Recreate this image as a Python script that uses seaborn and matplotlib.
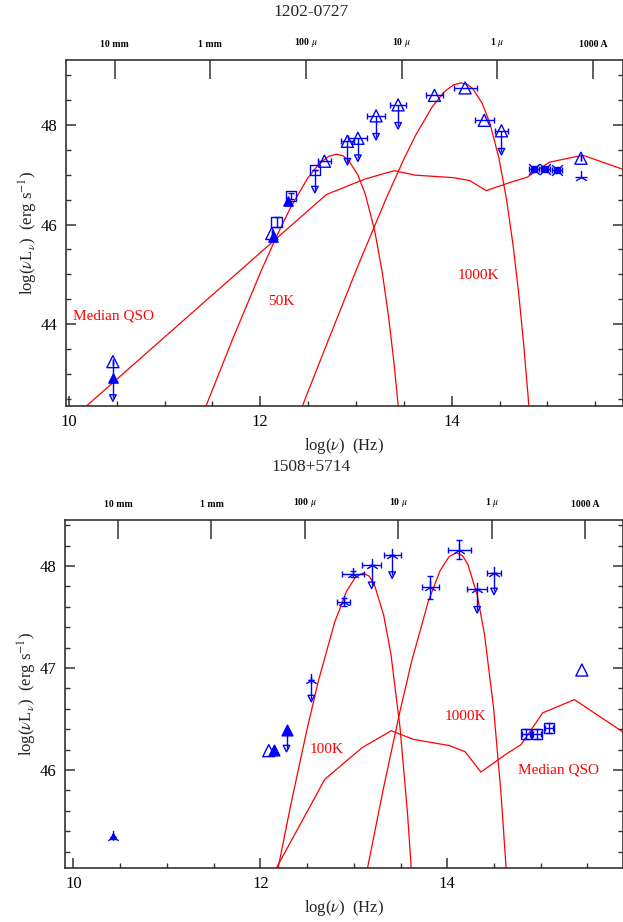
import numpy as np
import matplotlib
matplotlib.use('Agg')
import matplotlib.pyplot as plt
from matplotlib.ticker import MultipleLocator
import seaborn as sns

RED = '#ff0000'
BLUE = '#0000ff'

# top axis: wavelength in cm and its labels
wave_cm = [1.0, 0.1, 0.01, 0.001, 1e-4, 1e-5]
wave_labels = ['10 mm', '1 mm', r'100 $\mu$', r'10 $\mu$', r'1 $\mu$', '1000 A']

# ---------------- 1202-0727 ----------------
qso1_x = [10.16, 11.40, 12.69, 13.09, 13.40, 13.62, 14.02, 14.19, 14.36, 14.62, 14.79, 15.02, 15.37, 15.80]
qso1_y = [42.32, 44.42, 46.60, 46.91, 47.08, 46.99, 46.94, 46.88, 46.68, 46.85, 46.95, 47.25, 47.39, 47.10]

bb50_x = [11.416, 11.717, 12.018, 12.194, 12.319, 12.495, 12.620, 12.717, 12.796, 12.863,
          12.921, 13.018, 13.097, 13.194, 13.273, 13.340, 13.398, 13.449]
bb50_y = [42.28, 43.73, 45.11, 45.86, 46.35, 46.93, 47.23, 47.37, 47.41, 47.38,
          47.29, 47.00, 46.61, 45.89, 45.06, 44.16, 43.21, 42.21]

bb1000a_x = [12.319, 12.495, 12.717, 13.018, 13.319, 13.495, 13.620, 13.796, 13.921, 14.018, 14.097,
             14.164, 14.222, 14.319, 14.398, 14.495, 14.574, 14.641, 14.699, 14.750, 14.796, 14.838]
bb1000a_y = [41.76, 42.63, 43.71, 45.16, 46.54, 47.29, 47.78, 48.36, 48.66, 48.80, 48.84,
             48.81, 48.72, 48.43, 48.04, 47.32, 46.49, 45.59, 44.64, 43.64, 42.61, 41.56]

tri1_x = [10.46, 12.12, 12.67, 12.91, 13.02, 13.21, 13.44, 13.82, 14.14, 14.34, 14.52, 15.35]
tri1_y = [43.25, 45.82, 47.27, 47.67, 47.73, 48.18, 48.40, 48.59, 48.74, 48.09, 47.88, 47.33]
tri1_xerr = [0, 0, 0.065, 0.07, 0.10, 0.095, 0.086, 0.086, 0.12, 0.10, 0.07, 0]
ftri1_x = [10.46, 12.13, 12.29]
ftri1_y = [42.93, 45.74, 46.47]
sq1_x = [12.17, 12.32, 12.57]
sq1_y = [46.05, 46.57, 47.09]
sq1_yerr = [0.10, 0.06, 0.0]
crs1_x = [14.86, 14.98, 15.10]
crs1_y = [47.12, 47.12, 47.10]
star1_x = [15.35]
star1_y = [46.96]
# upper limits: x, start, arrow end
lim1_x = [10.46, 12.57, 12.91, 13.02, 13.21, 13.44, 14.52]
lim1_top = [43.25, 47.09, 47.67, 47.73, 48.18, 48.40, 47.88]
lim1_end = [42.52, 46.70, 47.26, 47.33, 47.76, 47.98, 47.46]

# ---------------- 1508+5714 ----------------
qso2_x = [12.10, 12.69, 13.09, 13.40, 13.64, 14.02, 14.19, 14.36, 14.62, 14.79, 15.02, 15.36, 15.90]
qso2_y = [44.92, 45.91, 46.22, 46.385, 46.30, 46.24, 46.18, 45.98, 46.15, 46.25, 46.56, 46.69, 46.36]

bb100_x = [12.018, 12.319, 12.495, 12.620, 12.796, 12.921, 13.018, 13.097, 13.164, 13.222,
           13.319, 13.398, 13.495, 13.574, 13.641]
bb100_y = [44.25, 45.63, 46.38, 46.87, 47.45, 47.75, 47.89, 47.93, 47.90, 47.81,
           47.52, 47.13, 46.41, 45.58, 44.68]

bb1000b_x = [12.717, 13.018, 13.319, 13.495, 13.620, 13.796, 13.921, 14.018, 14.097, 14.164,
             14.222, 14.319, 14.398, 14.495, 14.574, 14.641]
bb1000b_y = [43.00, 44.45, 45.83, 46.58, 47.07, 47.65, 47.95, 48.09, 48.13, 48.10,
             48.01, 47.72, 47.33, 46.61, 45.78, 44.88]

star2_x = [10.42, 12.545, 12.89, 12.99, 13.19, 13.41, 13.82, 14.13, 14.32, 14.50]
star2_y = [45.34, 46.88, 47.65, 47.92, 48.01, 48.11, 47.79, 48.16, 47.77, 47.93]
star2_xerr = [0, 0, 0.07, 0.115, 0.10, 0.09, 0.09, 0.125, 0.105, 0.07]
star2_yerr = [0, 0, 0.04, 0.03, 0, 0, 0.11, 0.09, 0, 0]
tri2_x = [12.09, 15.44]
tri2_y = [46.19, 46.98]
ftri2_x = [12.15, 12.28]
ftri2_y = [46.20, 46.39]
small_tri2_x = [10.42]
small_tri2_y = [45.35]
sq2_x = [14.84, 14.96, 15.09]
sq2_y = [46.35, 46.35, 46.41]
lim2_x = [12.28, 12.545, 13.19, 13.41, 14.32, 14.50]
lim2_top = [46.39, 46.88, 48.01, 48.11, 47.77, 47.93]
lim2_end = [46.21, 46.70, 47.81, 47.91, 47.57, 47.75]


def open_pts(ax, x, y, marker, s):
    sns.scatterplot(x=x, y=y, marker=marker, s=s, facecolor='none',
                    edgecolor=BLUE, linewidth=1.0, ax=ax, zorder=4)


def filled_pts(ax, x, y, marker, s):
    sns.scatterplot(x=x, y=y, marker=marker, s=s, color=BLUE,
                    edgecolor=BLUE, linewidth=1.0, ax=ax, zorder=4)


def limits(ax, x, top, end):
    ax.vlines(x, top, end, color=BLUE, lw=1.0, zorder=3)
    open_pts(ax, x, end, 'v', 22)


def curve(ax, x, y):
    sns.lineplot(x=x, y=y, sort=False, estimator=None, color=RED, lw=0.9, ax=ax, zorder=2)


def setup(ax, xlim, ylim, title, title_y):
    ax.set_xlim(*xlim)
    ax.set_ylim(*ylim)
    ax.xaxis.set_major_locator(MultipleLocator(2))
    ax.xaxis.set_minor_locator(MultipleLocator(0.5))
    ax.yaxis.set_major_locator(MultipleLocator(2 if ylim[1] - ylim[0] > 5 else 1))
    ax.yaxis.set_minor_locator(MultipleLocator(0.5 if ylim[1] - ylim[0] > 5 else 0.2))
    ax.tick_params(which='both', direction='in', top=False, right=True, colors='#333333',
                   labelcolor='black', labelsize=12, pad=6)
    ax.tick_params(which='major', length=7, width=1.1)
    ax.tick_params(which='minor', length=3.5, width=1.0)
    for sp in ax.spines.values():
        sp.set_color('#333333')
        sp.set_linewidth(1.2)
    ax.set_xlabel(r'log($\nu$)  (Hz)', fontsize=12, labelpad=4)
    ax.set_ylabel(r'log($\nu$L$_\nu$)  (erg s$^{-1}$)', fontsize=12, labelpad=1)

    top = ax.twiny()
    top.set_xlim(*xlim)
    top.set_xticks(np.log10(3e10 / np.array(wave_cm)))
    top.set_xticklabels(wave_labels, fontsize=7, fontweight='bold')
    top.tick_params(direction='in', length=14, width=1.1, pad=8, colors='#333333', labelcolor='black')
    for sp in top.spines.values():
        sp.set_visible(False)
    fig.text(0.5, title_y, title, ha='center', va='center', fontsize=12.5)


sns.set_style('ticks')
plt.rcParams['font.family'] = ['Liberation Serif', 'DejaVu Serif']
plt.rcParams['mathtext.fontset'] = 'stix'

fig = plt.figure(figsize=(6.23, 9.22), dpi=100)
W, H = 623.0, 922.0
ax1 = fig.add_axes([66 / W, 1 - 406 / H, (623 - 66) / W, (406 - 60) / H])
ax2 = fig.add_axes([65 / W, 1 - 868 / H, (623 - 65) / W, (868 - 520) / H])

# panel 1
curve(ax1, qso1_x, qso1_y)
curve(ax1, bb50_x, bb50_y)
curve(ax1, bb1000a_x, bb1000a_y)
ax1.errorbar(tri1_x, tri1_y, xerr=tri1_xerr, fmt='none', ecolor=BLUE, elinewidth=1.0, capsize=2, zorder=3)
ax1.errorbar(sq1_x, sq1_y, yerr=sq1_yerr, fmt='none', ecolor=BLUE, elinewidth=1.0, capsize=2, zorder=3)
ax1.errorbar(crs1_x, crs1_y, xerr=0.05, fmt='none', ecolor=BLUE, elinewidth=1.0, capsize=2, zorder=3)
ax1.errorbar(star1_x, star1_y, xerr=0.06, fmt='none', ecolor=BLUE, elinewidth=1.0, zorder=3)
limits(ax1, lim1_x, lim1_top, lim1_end)
open_pts(ax1, tri1_x, tri1_y, '^', 75)
filled_pts(ax1, ftri1_x, ftri1_y, '^', 45)
open_pts(ax1, sq1_x, sq1_y, 's', 55)
filled_pts(ax1, crs1_x, crs1_y, 's', 14)
filled_pts(ax1, crs1_x, crs1_y, 'x', 60)
filled_pts(ax1, star1_x, star1_y, '2', 90)
ax1.text(10.04, 44.17, 'Median QSO', color=RED, fontsize=11, va='center')
ax1.text(12.22, 44.46, '50K', color=RED, fontsize=11, ha='center', va='center')
ax1.text(14.28, 44.97, '1000K', color=RED, fontsize=11, ha='center', va='center')
setup(ax1, (9.97, 15.79), (42.36, 49.30), '1202-0727', 1 - 12 / H)

# panel 2
curve(ax2, qso2_x, qso2_y)
curve(ax2, bb100_x, bb100_y)
curve(ax2, bb1000b_x, bb1000b_y)
ax2.errorbar(star2_x, star2_y, xerr=star2_xerr, yerr=star2_yerr, fmt='none', ecolor=BLUE,
             elinewidth=1.0, capsize=2, zorder=3)
ax2.errorbar(sq2_x, sq2_y, xerr=0.04, yerr=0.05, fmt='none', ecolor=BLUE, elinewidth=1.0,
             capsize=2, zorder=3)
limits(ax2, lim2_x, lim2_top, lim2_end)
filled_pts(ax2, star2_x, star2_y, '2', 90)
open_pts(ax2, tri2_x, tri2_y, '^', 75)
filled_pts(ax2, ftri2_x, ftri2_y, '^', 60)
filled_pts(ax2, small_tri2_x, small_tri2_y, '^', 18)
open_pts(ax2, sq2_x, sq2_y, 's', 55)
ax2.text(12.71, 46.20, '100K', color=RED, fontsize=11, ha='center', va='center')
ax2.text(14.19, 46.52, '1000K', color=RED, fontsize=11, ha='center', va='center')
ax2.text(15.19, 46.00, 'Median QSO', color=RED, fontsize=11, ha='center', va='center')
setup(ax2, (9.91, 15.88), (45.04, 48.45), '1508+5714', 1 - 467 / H)

fig.savefig('out.png', dpi=100)
